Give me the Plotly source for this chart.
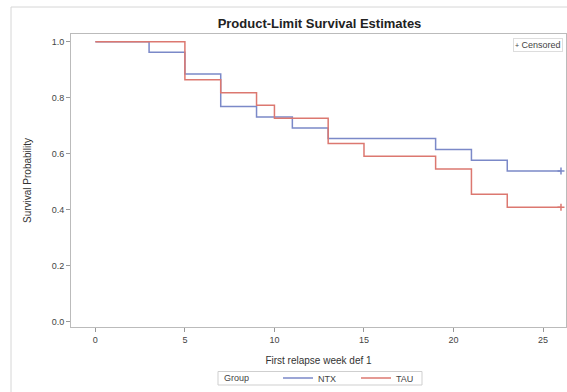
import plotly.graph_objects as go

# Data (Kaplan-Meier steps)
ntx_weeks = [0, 3, 5, 7, 9, 11, 13, 19, 21, 23, 26]
ntx_surv = [1.0, 0.962, 0.885, 0.769, 0.731, 0.692, 0.654, 0.615, 0.577, 0.538, 0.538]
tau_weeks = [0, 5, 7, 9, 10, 13, 15, 19, 21, 23, 26]
tau_surv = [1.0, 0.864, 0.818, 0.773, 0.727, 0.636, 0.591, 0.545, 0.455, 0.409, 0.409]
censor_week = 26
x_ticks = [0, 5, 10, 15, 20, 25]
y_ticks = [0.0, 0.2, 0.4, 0.6, 0.8, 1.0]

BLUE = "#7b89c8"
RED = "#dc7870"
FONT = "Liberation Sans, Arial, sans-serif"

W, H = 567, 392
L, T = 71, 34
R = W - 566
B = H - 327
pw, ph = W - L - R, H - T - B


def px(xs):
    return (xs - L) / pw


def py(ys):
    return (H - B - ys) / ph


fig = go.Figure()
fig.add_trace(go.Scatter(x=ntx_weeks, y=ntx_surv, mode="lines", line_shape="hv",
                         line=dict(color=BLUE, width=1.5), name="NTX", legend="legend2"))
fig.add_trace(go.Scatter(x=tau_weeks, y=tau_surv, mode="lines", line_shape="hv",
                         line=dict(color=RED, width=1.5), name="TAU", legend="legend2"))
fig.add_trace(go.Scatter(x=[censor_week], y=[ntx_surv[-1]], mode="markers",
                         marker=dict(symbol="cross-thin", size=5, color=BLUE,
                                     line=dict(color=BLUE, width=1.5)),
                         showlegend=False, cliponaxis=False))
fig.add_trace(go.Scatter(x=[censor_week], y=[tau_surv[-1]], mode="markers",
                         marker=dict(symbol="cross-thin", size=5, color=RED,
                                     line=dict(color=RED, width=1.5)),
                         showlegend=False, cliponaxis=False))

fig.update_layout(
    template="none",
    width=W, height=H,
    margin=dict(l=L, r=R, t=T, b=B, pad=0, autoexpand=False),
    paper_bgcolor="white", plot_bgcolor="white",
    font=dict(family=FONT, size=10, color="#333"),
    title=dict(text="<b>Product-Limit Survival Estimates</b>", x=px(319.5), xref="paper",
               xanchor="center", y=1 - 23 / H, yanchor="middle",
               font=dict(size=13, color="#222", family=FONT)),
    xaxis=dict(range=[-1.36, 26.28], tickvals=x_ticks, ticks="outside", ticklen=4,
               tickcolor="#999", showgrid=False, zeroline=False, automargin=False,
               showline=True, linecolor="#bbb", linewidth=1, mirror=True,
               tickfont=dict(size=9, color="#444"),
               title=dict(text="First relapse week def 1", standoff=13,
                          font=dict(size=10, color="#333"))),
    yaxis=dict(range=[-0.019, 1.0275], tickvals=y_ticks, tickformat=".1f",
               ticks="outside", ticklen=4, tickcolor="#999", automargin=False,
               showgrid=False, zeroline=False,
               showline=True, linecolor="#bbb", linewidth=1, mirror=True,
               tickfont=dict(size=9, color="#444"),
               title=dict(text="Survival Probability", standoff=18,
                          font=dict(size=10, color="#333"))),
    showlegend=True,
    legend2=dict(orientation="h", x=px(278), xanchor="left", y=py(378), yanchor="middle",
                 bgcolor="rgba(0,0,0,0)", borderwidth=0, entrywidth=33,
                 font=dict(size=9, color="#444"), tracegroupgap=0, valign="middle"),
    annotations=[
        dict(text="<span style='font-size:7px'>+</span> Censored",
             xref="paper", yref="paper", x=px(563), y=py(38),
             xanchor="right", yanchor="top", showarrow=False,
             font=dict(size=9, color="#444", family=FONT),
             bgcolor="white", bordercolor="#ddd", borderwidth=1, borderpad=1),
        dict(text="Group", xref="paper", yref="paper", x=px(222), y=py(378),
             xanchor="left", yanchor="middle", showarrow=False,
             font=dict(size=9, color="#444", family=FONT)),
    ],
    shapes=[
        dict(type="rect", xref="paper", yref="paper",
             x0=px(11), x1=px(580), y0=py(400), y1=py(7),
             line=dict(color="#d6d6d6", width=1), fillcolor="rgba(0,0,0,0)",
             layer="below"),
        dict(type="rect", xref="paper", yref="paper",
             x0=px(218), x1=px(422), y0=py(385), y1=py(371.5),
             line=dict(color="#cfcfcf", width=1), fillcolor="rgba(0,0,0,0)",
             layer="below"),
    ],
)

fig.write_html("out.html", config={"displayModeBar": False},
               post_script="document.body.style.margin='0';document.body.style.overflow='hidden';")
